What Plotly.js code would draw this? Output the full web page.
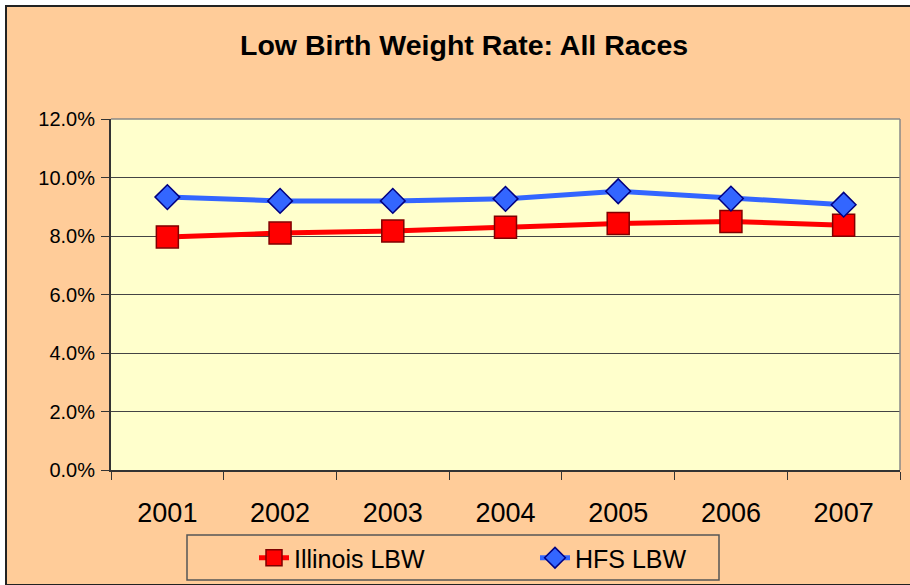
<!DOCTYPE html>
<html>
<head>
<meta charset="utf-8">
<script src="https://cdn.plot.ly/plotly-3.0.1.min.js"></script>
<style>
  html, body { margin: 0; padding: 0; background: #ffffff; }
  #bg { position: absolute; left: 5px; top: 5px; width: 905px; height: 577px;
        background: #FFCC99; border-left: 2px solid #222; border-top: 2px solid #222; border-bottom: 2px solid #222; }
  #chart { position: absolute; left: 0; top: 0; width: 910px; height: 585px; }
</style>
</head>
<body>
<div id="bg"></div>
<div id="chart"></div>
<script>
const years = ['2001', '2002', '2003', '2004', '2005', '2006', '2007'];
const illinoisLBW = [7.97, 8.10, 8.17, 8.30, 8.43, 8.50, 8.37];
const hfsLBW = [9.33, 9.20, 9.20, 9.27, 9.53, 9.28, 9.07];
const yTicks = [0, 2, 4, 6, 8, 10, 12];
const yTickLabels = ['0.0%', '2.0%', '4.0%', '6.0%', '8.0%', '10.0%', '12.0%'];
const titleText = 'Low Birth Weight Rate: All Races';

const FONT = 'Liberation Sans, Arial, sans-serif';

const traces = [
  {
    x: years, y: illinoisLBW, name: 'Illinois LBW', type: 'scatter', mode: 'lines+markers',
    line: { color: '#FF0000', width: 5 },
    marker: { symbol: 'square', size: 22, color: '#FF0000', line: { color: '#800000', width: 1.5 } }
  },
  {
    x: years, y: hfsLBW, name: 'HFS LBW', type: 'scatter', mode: 'lines+markers',
    line: { color: '#3366FF', width: 5 },
    marker: { symbol: 'diamond', size: 19, color: '#3366FF', line: { color: '#000080', width: 1.5 } }
  }
];

const L = 111, R = 900, T = 119, B = 470;
const W = R - L, H = B - T;
const px = v => (v - L) / W;
const py = v => (B - v) / H;

const layout = {
  width: 910, height: 585,
  margin: { l: L, r: 910 - R, t: T, b: 585 - B },
  paper_bgcolor: 'rgba(0,0,0,0)',
  plot_bgcolor: '#FFFFCC',
  font: { family: FONT, color: '#000000' },
  title: {
    text: '<b>' + titleText + '</b>',
    font: { family: FONT, size: 28.5, color: '#000' },
    xref: 'container', x: 0.51, xanchor: 'center',
    yref: 'container', y: 1 - 45 / 585, yanchor: 'middle'
  },
  xaxis: {
    type: 'category', range: [-0.5, 6.5],
    showgrid: false, zeroline: false,
    showline: true, linecolor: '#333333', linewidth: 2,
    ticks: 'outside', tickson: 'boundaries', ticklen: 8, tickcolor: '#333333', tickwidth: 1,
    tickfont: { family: FONT, size: 27, color: '#000' },
    ticklabelstandoff: 18,
    automargin: false,
    fixedrange: true
  },
  yaxis: {
    range: [0, 12], tickmode: 'array', tickvals: yTicks, ticktext: yTickLabels,
    showgrid: true, gridcolor: '#444444', gridwidth: 1, zeroline: false,
    showline: true, linecolor: '#333333', linewidth: 2,
    ticks: 'outside', ticklen: 8, tickcolor: '#333333', tickwidth: 1,
    tickfont: { family: FONT, size: 20, color: '#000' },
    ticklabelstandoff: 2,
    automargin: false,
    fixedrange: true
  },
  shapes: [
    { type: 'line', xref: 'paper', yref: 'paper', x0: 0, x1: 1, y0: 1, y1: 1, line: { color: '#888888', width: 1.5 } },
    { type: 'line', xref: 'paper', yref: 'paper', x0: 1, x1: 1, y0: 0, y1: 1, line: { color: '#888888', width: 1.5 } },
    { type: 'rect', xref: 'paper', yref: 'paper', x0: px(187), x1: px(719), y0: py(580), y1: py(535),
      line: { color: '#555555', width: 1.5 }, fillcolor: 'rgba(0,0,0,0)' }
  ],
  showlegend: true,
  legend: {
    orientation: 'h', xref: 'container', yref: 'container',
    x: 254 / 910, xanchor: 'left', y: 1 - 535 / 585, yanchor: 'top',
    bgcolor: 'rgba(0,0,0,0)', borderwidth: 0,
    font: { family: FONT, size: 25, color: '#000' },
    entrywidth: 236, entrywidthmode: 'pixels',
    itemclick: false, itemdoubleclick: false
  }
};

Plotly.newPlot('chart', traces, layout, { displayModeBar: false, staticPlot: true });
</script>
</body>
</html>
